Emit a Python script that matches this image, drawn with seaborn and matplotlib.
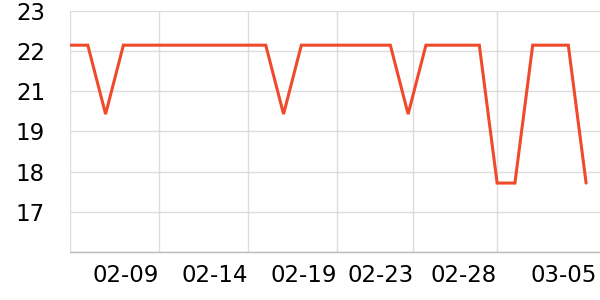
import matplotlib
matplotlib.use("Agg")
import matplotlib.pyplot as plt
import seaborn as sns
import pandas as pd
import numpy as np

# ---- data ----
dates = pd.date_range("2023-02-04", periods=30, freq="D")
values = [22, 22, 20, 22, 22, 22, 22, 22, 22, 22,
          22, 22, 20, 22, 22, 22, 22, 22, 22, 20,
          22, 22, 22, 22, 18, 18, 22, 22, 22, 18]
x_tick_dates = ["2023-02-04 00:00", "2023-02-09 00:00", "2023-02-14 00:00",
                "2023-02-19 00:00", "2023-02-23 07:00", "2023-02-28 00:00",
                "2023-03-05 15:00"]
x_tick_labels = ["", "02-09", "02-14", "02-19", "02-23", "02-28", "03-05"]
y_ticks = list(np.linspace(16, 23, 7))
y_tick_labels = ["", "17", "18", "19", "21", "22", "23"]

df = pd.DataFrame({"date": dates, "value": values})

sns.set_theme(style="white")
plt.rcParams["font.family"] = ["DejaVu Sans"]

fig = plt.figure(figsize=(6, 3), dpi=100)
ax = fig.add_axes([70 / 600, 48 / 300, 530 / 600, (252 - 10.7) / 300])

sns.lineplot(data=df, x="date", y="value", ax=ax, color="#f04a2c",
             linewidth=2.2, solid_joinstyle="miter")

ax.set_ylim(16, 23)
ax.set_xlim(pd.Timestamp("2023-02-04"), pd.Timestamp("2023-03-05 18:45"))
ax.set_yticks(y_ticks)
ax.set_yticklabels(y_tick_labels)
ax.set_xticks(pd.to_datetime(x_tick_dates, format="%Y-%m-%d %H:%M"))
ax.set_xticklabels(x_tick_labels, ha="right")
ax.set_xlabel("")
ax.set_ylabel("")

ax.grid(True, color="#dddddd", linewidth=1.0)
for s in ["top", "right", "left"]:
    ax.spines[s].set_visible(False)
ax.spines["bottom"].set_color("#bbbbbb")
ax.spines["bottom"].set_linewidth(1.0)

ax.tick_params(axis="y", length=0, pad=18, labelsize=16.5, labelcolor="black")
ax.tick_params(axis="x", length=3, width=1, color="#bbbbbb", pad=6,
               labelsize=16.5, labelcolor="black", direction="out")

# hide gridline / tick of the last (label-only) tick
ax.get_xgridlines()[-1].set_visible(False)
ax.xaxis.get_major_ticks()[-1].tick1line.set_visible(False)

fig.savefig("out.png", dpi=100)
